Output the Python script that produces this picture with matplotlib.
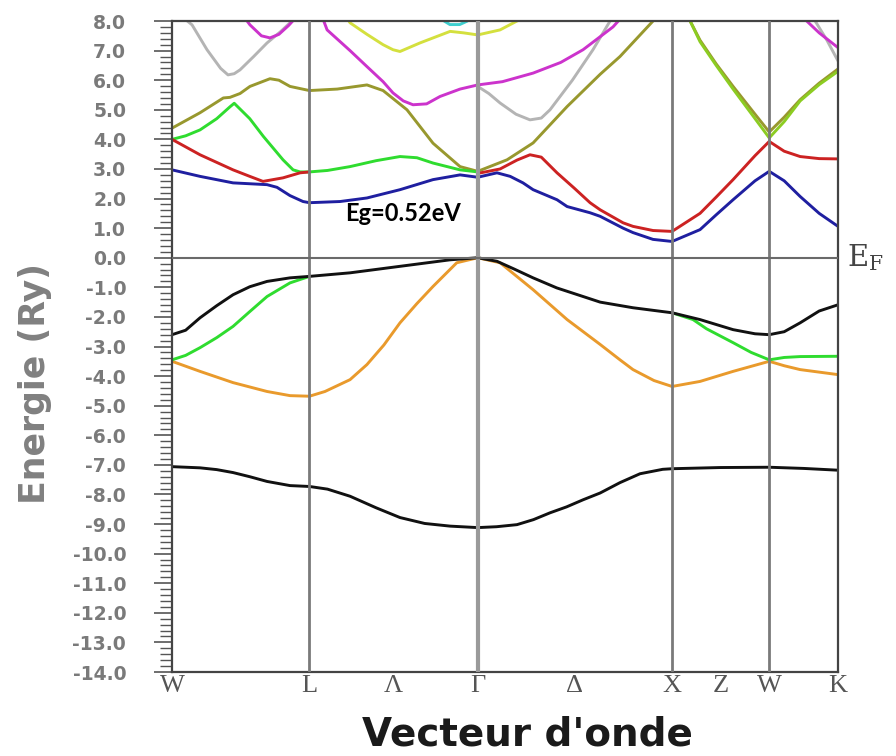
import matplotlib
matplotlib.use('Agg')
import matplotlib.pyplot as plt
import matplotlib.transforms as mtransforms
from matplotlib.ticker import MultipleLocator, FuncFormatter

# ---------------- data ----------------
kpt_labels = ['W', 'L', 'Λ', 'Γ', 'Δ', 'X', 'Z', 'W', 'K']
kpt_pos = [0.0, 0.707, 1.140, 1.573, 2.073, 2.573, 2.823, 3.073, 3.427]
vline_pos = [0.707, 1.573, 2.573, 3.073]

# lowest valence band (black)
core_k = [0, 0.144, 0.23, 0.314, 0.40, 0.489, 0.607, 0.707, 0.80, 0.916, 1.05, 1.173, 1.30, 1.431, 1.573,
          1.67, 1.775, 1.86, 1.945, 2.03, 2.115, 2.203, 2.305, 2.408, 2.525, 2.573, 2.82, 3.073, 3.25, 3.427]
core_E = [-7.06, -7.10, -7.16, -7.26, -7.40, -7.56, -7.70, -7.73, -7.82, -8.06, -8.45, -8.78, -8.98, -9.07, -9.12,
          -9.09, -9.02, -8.85, -8.62, -8.42, -8.18, -7.95, -7.60, -7.30, -7.15, -7.13, -7.09, -7.08, -7.12, -7.18]

# top valence band (black)
vtop_k = [0, 0.07, 0.144, 0.23, 0.314, 0.40, 0.489, 0.607, 0.707, 0.916, 1.173, 1.431, 1.573, 1.672, 1.76,
          1.858, 1.98, 2.115, 2.203, 2.372, 2.573, 2.717, 2.887, 3.0, 3.073, 3.15, 3.232, 3.33, 3.427]
vtop_E = [-2.6, -2.45, -2.03, -1.62, -1.25, -0.98, -0.80, -0.68, -0.63, -0.51, -0.29, -0.07, 0.0, -0.12, -0.38,
          -0.68, -1.02, -1.31, -1.50, -1.69, -1.86, -2.09, -2.43, -2.57, -2.60, -2.50, -2.20, -1.80, -1.59]

# orange valence band
vor_k = [0, 0.144, 0.314, 0.489, 0.607, 0.707, 0.787, 0.916, 1.003, 1.09, 1.173, 1.26, 1.343, 1.465, 1.573,
         1.688, 1.858, 2.033, 2.203, 2.305, 2.372, 2.48, 2.573, 2.717, 2.887, 3.073, 3.15, 3.232, 3.427]
vor_E = [-3.5, -3.84, -4.22, -4.52, -4.66, -4.68, -4.52, -4.12, -3.61, -2.95, -2.2, -1.55, -0.97, -0.17, 0.0,
         -0.17, -1.08, -2.09, -2.93, -3.45, -3.78, -4.15, -4.35, -4.18, -3.84, -3.5, -3.65, -3.78, -3.95]

# green valence band (visible parts)
vgr1_k = [0, 0.07, 0.144, 0.23, 0.314, 0.40, 0.489, 0.607, 0.707]
vgr1_E = [-3.45, -3.3, -3.04, -2.7, -2.32, -1.82, -1.31, -0.85, -0.63]
vgr2_k = [2.573, 2.681, 2.75, 2.887, 2.98, 3.073, 3.15, 3.232, 3.427]
vgr2_E = [-1.86, -2.09, -2.4, -2.87, -3.2, -3.45, -3.37, -3.34, -3.33]

# blue conduction band
cbl_k = [0, 0.144, 0.314, 0.489, 0.54, 0.607, 0.674, 0.707, 0.865, 1.003, 1.173, 1.343, 1.482, 1.573, 1.672,
         1.74, 1.806, 1.858, 1.981, 2.033, 2.151, 2.203, 2.321, 2.372, 2.475, 2.573, 2.717, 2.80, 2.887, 3.0,
         3.073, 3.15, 3.232, 3.33, 3.427]
cbl_E = [2.97, 2.75, 2.53, 2.47, 2.38, 2.1, 1.9, 1.86, 1.9, 2.02, 2.3, 2.64, 2.8, 2.72, 2.87,
         2.75, 2.53, 2.3, 1.96, 1.73, 1.52, 1.4, 1.0, 0.85, 0.62, 0.55, 0.95, 1.45, 1.96, 2.6,
         2.92, 2.6, 2.07, 1.5, 1.06]

# red conduction band
crd1_k = [0, 0.144, 0.314, 0.40, 0.468, 0.571, 0.659, 0.707]
crd1_E = [4.0, 3.48, 2.97, 2.75, 2.58, 2.7, 2.87, 2.9]
crd2_k = [1.573, 1.688, 1.775, 1.842, 1.90, 1.981, 2.07, 2.151, 2.203, 2.321, 2.372, 2.475, 2.573, 2.717,
          2.80, 2.887, 3.0, 3.073, 3.15, 3.232, 3.33, 3.427]
crd2_E = [2.85, 3.0, 3.3, 3.48, 3.4, 2.87, 2.35, 1.86, 1.62, 1.18, 1.06, 0.92, 0.89, 1.5,
          2.05, 2.64, 3.45, 3.93, 3.6, 3.42, 3.35, 3.34]

# green conduction band
cgr1_k = [0, 0.07, 0.144, 0.23, 0.298, 0.32, 0.40, 0.47, 0.571, 0.623, 0.659, 0.707, 0.80, 0.916, 1.05,
          1.173, 1.26, 1.343, 1.482, 1.573]
cgr1_E = [4.0, 4.12, 4.32, 4.7, 5.1, 5.22, 4.7, 4.1, 3.31, 2.97, 2.9, 2.9, 2.95, 3.08, 3.28,
          3.42, 3.38, 3.2, 2.97, 2.9]
cgr2_k = [2.666, 2.717, 2.80, 2.887, 3.0, 3.073, 3.15, 3.232, 3.33, 3.427]
cgr2_E = [8.0, 7.3, 6.5, 5.7, 4.7, 4.05, 4.6, 5.3, 5.85, 6.3]

# olive conduction band
col1_k = [0, 0.144, 0.264, 0.298, 0.35, 0.401, 0.504, 0.55, 0.607, 0.707, 0.85, 1.003, 1.086, 1.209, 1.343,
          1.482, 1.573, 1.724, 1.858, 2.033, 2.203, 2.305, 2.475, 2.52]
col1_E = [4.38, 4.9, 5.4, 5.42, 5.55, 5.79, 6.05, 6.0, 5.79, 5.65, 5.7, 5.84, 5.65, 5.0, 3.87,
          3.08, 2.92, 3.31, 3.88, 5.11, 6.2, 6.8, 8.0, 8.3]
col2_k = [2.666, 2.717, 2.80, 2.887, 3.0, 3.073, 3.15, 3.232, 3.33, 3.427]
col2_E = [8.0, 7.35, 6.55, 5.79, 4.85, 4.25, 4.75, 5.34, 5.9, 6.38]

# gray band
cgy1_k = [0.06, 0.103, 0.18, 0.25, 0.288, 0.32, 0.35, 0.42, 0.489, 0.56, 0.607, 0.63]
cgy1_E = [8.1, 7.87, 7.03, 6.4, 6.18, 6.22, 6.35, 6.8, 7.26, 7.65, 7.94, 8.1]
cgy2_k = [1.573, 1.63, 1.688, 1.77, 1.842, 1.90, 1.945, 2.06, 2.166, 2.254, 2.28]
cgy2_E = [5.79, 5.55, 5.23, 4.85, 4.66, 4.72, 5.0, 6.0, 7.03, 8.0, 8.2]
cgy3_k = [3.30, 3.37, 3.427]
cgy3_E = [8.1, 7.35, 6.65]

# magenta band
cmg1_k = [0.375, 0.401, 0.46, 0.504, 0.55, 0.60, 0.635]
cmg1_E = [8.1, 7.87, 7.5, 7.43, 7.55, 7.85, 8.1]
cmg2_k = [0.775, 0.798, 0.916, 1.003, 1.086, 1.137, 1.19, 1.24, 1.31, 1.379, 1.482, 1.573, 1.70, 1.858,
          2.0, 2.115, 2.269, 2.31]
cmg2_E = [8.1, 7.7, 7.0, 6.46, 5.95, 5.57, 5.3, 5.17, 5.2, 5.45, 5.7, 5.84, 5.95, 6.24,
          6.6, 7.03, 7.8, 8.1]
cmg3_k = [3.25, 3.33, 3.427]
cmg3_E = [8.1, 7.6, 7.1]

# yellow band
cye_k = [0.90, 0.916, 1.003, 1.086, 1.137, 1.173, 1.276, 1.431, 1.50, 1.573, 1.688, 1.775, 1.80]
cye_E = [8.1, 7.94, 7.55, 7.2, 7.03, 6.97, 7.26, 7.65, 7.6, 7.53, 7.7, 8.0, 8.1]

# cyan band fragment
ccy_k = [1.40, 1.43, 1.48, 1.52]
ccy_E = [8.0, 7.88, 7.88, 8.0]

gap_text = 'Eg=0.52eV'

# ---------------- plot ----------------
fig = plt.figure(figsize=(8.96, 7.56), dpi=100)
ax = fig.add_axes([0.1920, 0.1111, 0.9353 - 0.1920, 0.9722 - 0.1111])

col_black = '#111111'
col_orange = '#e99a2c'
col_green = '#2fdc2f'
col_blue = '#1f1fa0'
col_red = '#cc2222'
col_olive = '#98982e'
col_gray = '#b4b4b4'
col_mag = '#cc33cc'
col_yel = '#d4e03e'
col_cyan = '#3fd0d0'
col_yg = '#8ccc22'

lw = 2.1
series = [
    (cgy1_k, cgy1_E, col_gray), (cgy2_k, cgy2_E, col_gray), (cgy3_k, cgy3_E, col_gray),
    (cye_k, cye_E, col_yel), (ccy_k, ccy_E, col_cyan),
    (cmg1_k, cmg1_E, col_mag), (cmg2_k, cmg2_E, col_mag), (cmg3_k, cmg3_E, col_mag),
    (col1_k, col1_E, col_olive), (col2_k, col2_E, col_olive),
    (cgr1_k, cgr1_E, col_green), (cgr2_k, cgr2_E, col_yg),
    (crd1_k, crd1_E, col_red), (crd2_k, crd2_E, col_red),
    (cbl_k, cbl_E, col_blue),
    (core_k, core_E, col_black),
    (vor_k, vor_E, col_orange),
    (vgr1_k, vgr1_E, col_green), (vgr2_k, vgr2_E, col_green),
    (vtop_k, vtop_E, col_black),
]
for ks, es, c in series:
    ax.plot(ks, es, color=c, lw=lw, solid_capstyle='round', solid_joinstyle='round', zorder=2)

for xv in vline_pos:
    if kpt_labels[kpt_pos.index(xv)] == 'Γ':
        ax.axvline(xv, color='#9a9a9a', lw=3.0, zorder=3)
    else:
        ax.axvline(xv, color='#7a7a7a', lw=2.0, zorder=3)
ax.axhline(0.0, color='#6a6a6a', lw=1.5, zorder=3)

ax.set_xlim(kpt_pos[0], kpt_pos[-1])
ax.set_ylim(-14, 8)

for sp in ax.spines.values():
    sp.set_color('#444444')
    sp.set_linewidth(1.6)

ax.set_xticks(kpt_pos)
ax.set_xticklabels(kpt_labels, family='Liberation Serif', fontsize=19, color='#555555')
ax.tick_params(axis='x', length=0, pad=2)

ax.yaxis.set_major_locator(MultipleLocator(1.0))
ax.yaxis.set_minor_locator(MultipleLocator(0.2))
ax.yaxis.set_major_formatter(FuncFormatter(lambda v, p: '%.1f' % v))
ax.tick_params(axis='y', which='major', length=13, width=1.2, color='#555555', pad=20,
               labelsize=13.5, labelcolor='#7a7a7a')
ax.tick_params(axis='y', which='minor', length=9, width=1.0, color='#555555')
for lab in ax.get_yticklabels():
    lab.set_fontweight('bold')

# E_F label
trans = mtransforms.blended_transform_factory(ax.transAxes, ax.transData)
ax.text(1.014, -0.3, r'$\mathrm{E}_{\mathrm{F}}$', transform=trans, ha='left', va='baseline',
        fontsize=21, color='#444444', clip_on=False, math_fontfamily='dejavuserif')

# gap annotation
ax.text(1.189, 1.49, gap_text, family='Lato', fontweight='bold', fontsize=17,
        color='black', ha='center', va='center', zorder=5)

fig.text(35 / 896, 1 - 383 / 756, 'Energie (Ry)', rotation=90, ha='center', va='center',
         fontsize=25, fontweight='bold', color='#808080')
fig.text(527 / 896, 1 - 735 / 756, "Vecteur d'onde", ha='center', va='center',
         fontsize=28, fontweight='bold', color='#1a1a1a')

fig.savefig('out.png', dpi=100, facecolor='white')
